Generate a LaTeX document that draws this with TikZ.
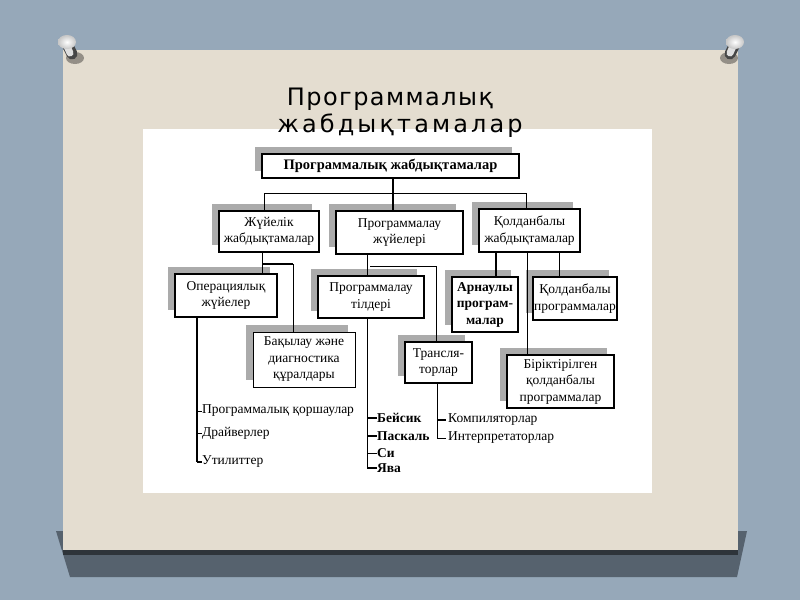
\documentclass[tikz,border=0pt]{standalone}
\usepackage{fontspec}
\setmainfont{Liberation Serif}
\newfontfamily\titlefont[LetterSpace=6]{DejaVu Sans}
\newfontfamily\titlefontb[LetterSpace=13]{DejaVu Sans}
\usetikzlibrary{shadows}

\definecolor{bgblue}{HTML}{96A8B9}
\definecolor{cardcol}{HTML}{E4DDD0}
\definecolor{cardshadow}{HTML}{56626E}
\definecolor{cardedge}{HTML}{2E343A}
\definecolor{dither}{HTML}{ABABAB}

\tikzset{
  dsh/.style={general shadow={fill=dither, shadow xshift=-7.5pt, shadow yshift=7.5pt}},
  box/.style={draw=black, fill=white, line width=1pt, align=center, inner sep=1pt,
    font=\fontsize{13.5}{16.5}\selectfont, dsh},
  boxmed/.style={box, line width=1.6pt},
  boxthick/.style={box, line width=2.2pt},
  conn/.style={line width=1pt},
  connthick/.style={line width=2.2pt},
  leaf/.style={anchor=west, inner sep=0pt, font=\fontsize{13.5}{16}\selectfont},
  leafbold/.style={leaf, font=\fontsize{13.5}{16}\selectfont\bfseries},
}

\begin{document}
\begin{tikzpicture}[x=1pt,y=-1pt]
\useasboundingbox (0,0) rectangle (800,600);
% background
\fill[bgblue] (0,0) rectangle (800,600);
% card shadow and card
\fill[cardshadow] (56,531) -- (747,531) -- (737,577) -- (70,577) -- cycle;
\fill[cardcol] (63,50) rectangle (738,550);
\fill[cardedge] (63,550) rectangle (738,555);
% pins
\fill[black, opacity=0.35] (75,58) ellipse (9pt and 6pt);
\draw[line width=11pt, line cap=round, gray!55!black] (67,44) -- (72,54);
\draw[line width=7pt, line cap=round, gray!25] (66,44) -- (70,53);
\shade[inner color=white, outer color=gray!45] (67,42) ellipse (9pt and 7pt);
\fill[black, opacity=0.35] (729,58) ellipse (9pt and 6pt);
\draw[line width=11pt, line cap=round, gray!55!black] (735,44) -- (730,54);
\draw[line width=7pt, line cap=round, gray!25] (734,44) -- (730,53);
\shade[inner color=white, outer color=gray!45] (735,42) ellipse (9pt and 7pt);
% white panel
\fill[white] (143,129) rectangle (652,493);
% title
\node[font=\titlefont\fontsize{24}{28}\selectfont, anchor=base, inner sep=0pt] (t1) at (390,105) {Программалық};
\node[font=\titlefontb\fontsize{24}{28}\selectfont, anchor=base, inner sep=0pt] (t2) at (400,132) {жабдықтамалар};

% boxes
\node[boxmed, minimum width=257pt, minimum height=24pt, font=\fontsize{14.5}{17}\selectfont\bfseries] (top) at (390.5,166) {Программалық жабдықтамалар};
\node[boxmed, minimum width=100pt, minimum height=41pt] (zh) at (269,231.5) {Жүйелік\\жабдықтамалар};
\node[boxthick, minimum width=127pt, minimum height=43pt] (pz) at (399.5,232.5) {Программалау\\жүйелері};
\node[boxmed, minimum width=101pt, minimum height=43pt] (qj) at (529.5,230.5) {Қолданбалы\\жабдықтамалар};
\node[boxmed, minimum width=102pt, minimum height=43pt] (op) at (226,295.5) {Операциялық\\жүйелер};
\node[box, minimum width=102pt, minimum height=55pt] (bq) at (304,359.5) {Бақылау және\\диагностика\\құралдары};
\node[box, line width=1.3pt, minimum width=106pt, minimum height=42pt] (pt) at (371,297) {Программалау\\тілдері};
\node[boxthick, minimum width=67pt, minimum height=41pt] (tr) at (438.5,362.5) {Трансля-\\торлар};
\node[boxthick, minimum width=66pt, minimum height=55pt, font=\fontsize{13.5}{16.5}\selectfont\bfseries] (ar) at (485,304.5) {Арнаулы\\програм-\\малар};
\node[boxthick, minimum width=82pt, minimum height=43pt] (qp) at (575,298.5) {Қолданбалы\\программалар};
\node[boxmed, minimum width=107pt, minimum height=53pt] (bi) at (560.5,381.5) {Біріктірілген\\қолданбалы\\программалар};

% leaves
\node[leaf] (l1) at (202,411) {Программалық қоршаулар};
\node[leaf] (l2) at (202,433) {Драйверлер};
\node[leaf] (l3) at (202,462) {Утилиттер};
\node[leafbold] (m1) at (377,418) {Бейсик};
\node[leafbold] (m2) at (377,436) {Паскаль};
\node[leafbold] (m3) at (377,453) {Си};
\node[leafbold] (m4) at (377,468) {Ява};
\node[leaf] (n1) at (448,420) {Компиляторлар};
\node[leaf] (n2) at (448,438) {Интерпретаторлар};

% connectors level 1
\coordinate (j0) at (393,193);
\coordinate (j1) at (264,193);
\coordinate (j2) at (526,193);
\draw[connthick] (top.south -| j0) -- (j0);
\draw[conn] (j1) -- (j2);
\draw[conn] (j1) -- (j1 |- zh.north);
\draw[connthick] (j0) -- (j0 |- pz.north);
\draw[conn] (j2) -- (j2 |- qj.north);

% system software children
\coordinate (k0) at (262,264);
\coordinate (k1) at (293,264);
\draw[conn] (zh.south -| k0) -- (op.north -| k0);
\draw[connthick] (k0) -- (k1);
\draw[conn] (k1) -- (k1 |- bq.north);

% OS leaf bus
\coordinate (ob) at (197,462);
\draw[connthick] (op.south -| ob) -- (ob);
\draw[conn] (l1.west -| ob) -- (l1.west);
\draw[conn] (l2.west -| ob) -- (l2.west);
\draw[connthick] (l3.west -| ob) -- (l3.west);

% programming systems children
\coordinate (p0) at (367,266);
\coordinate (p1) at (370,266);
\coordinate (p2) at (436,266);
\draw[conn] (pz.south -| p0) -- (pt.north -| p0);
\draw[conn] (p1) -- (p2);
\draw[conn] (p2) -- (p2 |- tr.north);

% languages leaf bus
\coordinate (pb) at (367,468);
\draw[conn] (pt.south -| pb) -- (pb);
\draw[connthick] (m1.west -| pb) -- (m1.west);
\draw[connthick] (m2.west -| pb) -- (m2.west);
\draw[conn] (m3.west -| pb) -- (m3.west);
\draw[connthick] (m4.west -| pb) -- (m4.west);

% translators leaf bus
\coordinate (tb) at (437,438);
\draw[conn] (tr.south -| tb) -- (tb);
\draw[connthick] (n1.west -| tb) -- ([xshift=-2pt]n1.west);
\draw[conn] (n2.west -| tb) -- ([xshift=-2pt]n2.west);

% applied software children
\coordinate (q0) at (496,260);
\coordinate (q1) at (527,260);
\coordinate (q2) at (559,260);
\draw[connthick] (qj.south -| q0) -- (ar.north -| q0);
\draw[conn] (qj.south -| q1) -- (bi.north -| q1);
\draw[conn] (qj.south -| q2) -- (qp.north -| q2);
\end{tikzpicture}
\end{document}
